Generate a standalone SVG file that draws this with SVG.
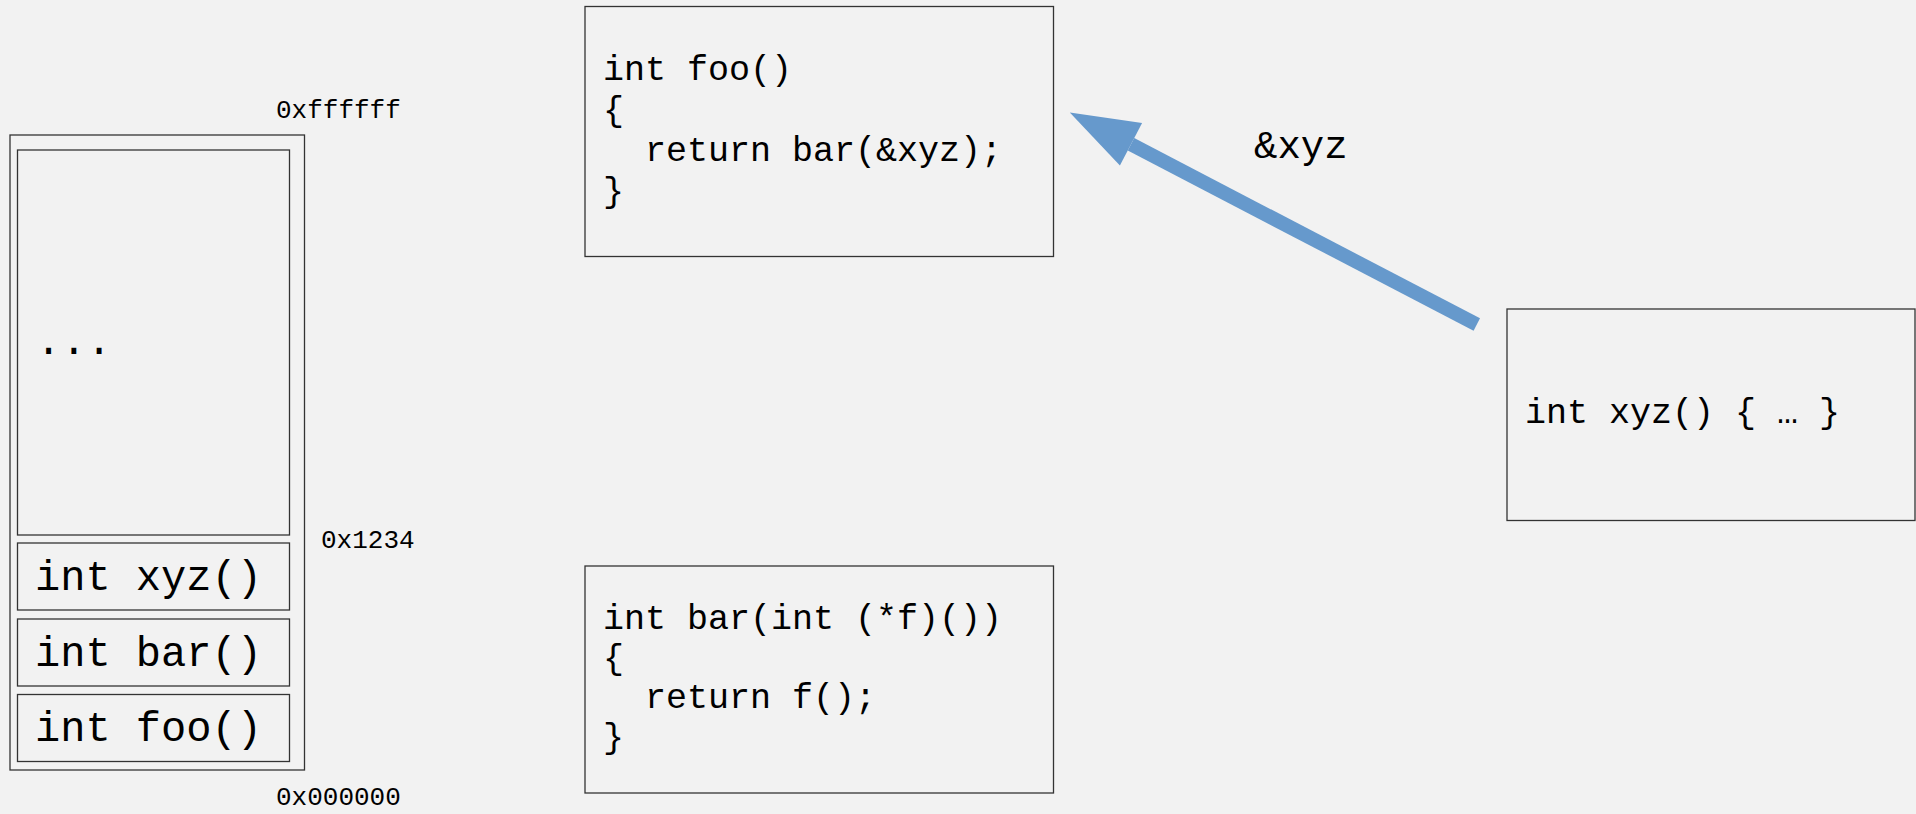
<svg xmlns="http://www.w3.org/2000/svg" width="1916" height="814" viewBox="0 0 1916 814">
<style>
.box{fill:none;stroke:#333;stroke-width:1.3}
.mem{font-family:"Liberation Mono","DejaVu Sans Mono",monospace;font-size:42px;fill:#000}
.addr{font-family:"Liberation Mono","DejaVu Sans Mono",monospace;font-size:26px;fill:#000}
.code{font-family:"Liberation Mono","DejaVu Sans Mono",monospace;font-size:35px;fill:#000}
.lbl{font-family:"Liberation Mono","DejaVu Sans Mono",monospace;font-size:39px;fill:#000}
</style>
<defs>
<marker id="head" markerUnits="userSpaceOnUse" markerWidth="80" markerHeight="60" refX="0" refY="24" orient="auto" viewBox="0 0 80 60" overflow="visible">
<path d="M0,0 L69,24 L0,48 Z" fill="#6699CC"/>
</marker>
</defs>
<rect width="1916" height="814" fill="#F2F2F2"/>
<g id="memory">
<rect class="box" x="10" y="135" width="294.5" height="635"/>
<text class="addr" x="276" y="118">0xffffff</text>
<text class="addr" x="321" y="548">0x1234</text>
<text class="addr" x="276" y="805">0x000000</text>
</g>
<g id="mem-free">
<rect class="box" x="17.5" y="150" width="272" height="385"/>
<text class="mem" x="36" y="354">...</text>
</g>
<g id="mem-xyz">
<rect class="box" x="17.5" y="543" width="272" height="67"/>
<text class="mem" x="35" y="589.5">int xyz()</text>
</g>
<g id="mem-bar">
<rect class="box" x="17.5" y="619" width="272" height="67"/>
<text class="mem" x="35" y="665.5">int bar()</text>
</g>
<g id="mem-foo">
<rect class="box" x="17.5" y="694.5" width="272" height="67"/>
<text class="mem" x="35" y="741">int foo()</text>
</g>
<g id="foo">
<rect class="box" x="585" y="6.5" width="468.5" height="250"/>
<text class="code" x="603" y="80">int foo()</text>
<text class="code" x="603" y="120.5">{</text>
<text class="code" x="603" y="161" xml:space="preserve">  return bar(&amp;xyz);</text>
<text class="code" x="603" y="201.5">}</text>
</g>
<g id="bar">
<rect class="box" x="585" y="566" width="468.5" height="227"/>
<text class="code" x="603" y="629">int bar(int (*f)())</text>
<text class="code" x="603" y="668.5">{</text>
<text class="code" x="603" y="708" xml:space="preserve">  return f();</text>
<text class="code" x="603" y="747.5">}</text>
</g>
<g id="xyz">
<rect class="box" x="1507" y="309" width="408" height="211.5"/>
<text class="code" x="1525" y="423">int xyz() { … }</text>
</g>
<g id="connectors">
<line x1="1476.8" y1="324.5" x2="1131" y2="144.3" stroke="#6699CC" stroke-width="14" marker-end="url(#head)"/>
<text class="lbl" x="1254" y="158">&amp;xyz</text>
</g>
</svg>
